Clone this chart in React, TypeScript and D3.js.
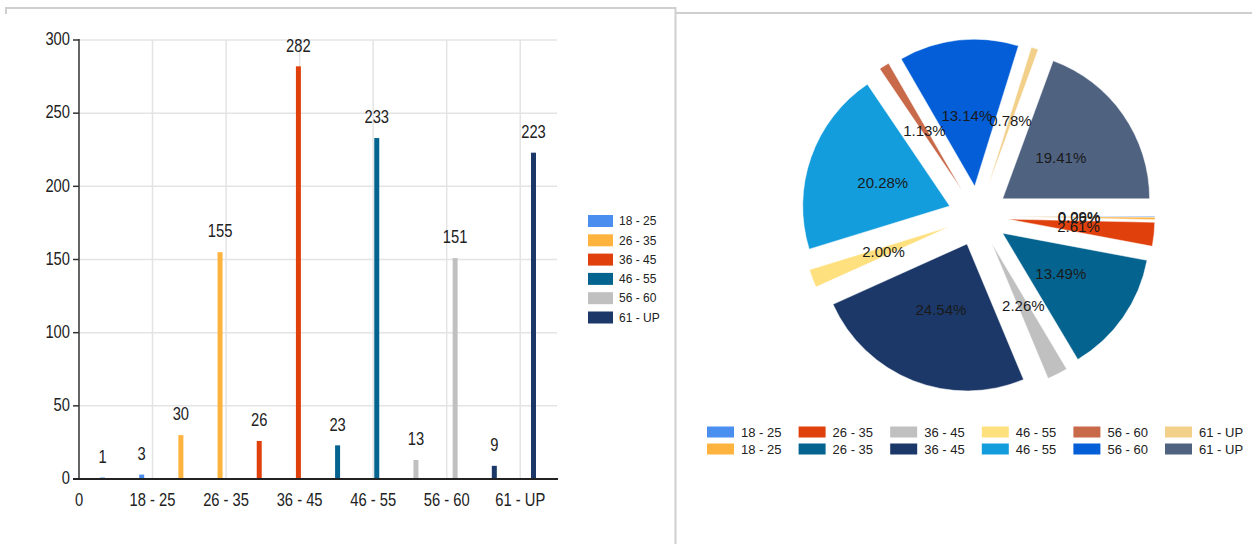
import React from "react";
import * as d3 from "d3";

// age groups and the two counts per group
const groups = ["18 - 25", "26 - 35", "36 - 45", "46 - 55", "56 - 60", "61 - UP"];
const seriesA = [1, 30, 26, 23, 13, 9];
const seriesB = [3, 155, 282, 233, 151, 223];
const yTicks = [0, 50, 100, 150, 200, 250, 300];
const xTickLabels = ["0", ...groups];

const barColors = ["#4a8ff0", "#ffb33f", "#e0400b", "#04648f", "#c0c0c0", "#1b3868"];
const pieColors = [
  "#4a8ff0", "#ffb33f", "#e0400b", "#04648f", "#c0c0c0", "#1b3868",
  "#ffe07f", "#149ddc", "#c8694a", "#035ed8", "#f2d08a", "#4f6280",
];

const sans = "Arial, 'Liberation Sans', sans-serif";
const ink = "#222";

// the bar chart uses a narrow face, faked by squeezing Liberation Sans
const Narrow: React.FC<{ x: number; y: number; anchor?: string; children: React.ReactNode }> = ({ x, y, anchor = "middle", children }) => (
  <text transform={`translate(${x},${y}) scale(0.82,1)`} textAnchor={anchor} dy="0.35em"
    fontFamily={sans} fontSize={18} fill={ink}>
    {children}
  </text>
);

const BarChart: React.FC = () => {
  const left = 79, right = 557, top = 40, bottom = 479;
  const x = d3.scaleLinear().domain([0, 6.5]).range([left, right]);
  const y = d3.scaleLinear().domain([0, 300]).range([bottom, top]);
  const band = d3.scaleBand<string>().domain(groups).range([left, right]).paddingOuter(0.05).paddingInner(0);
  const sub = d3.scaleBand<number>().domain([0, 1]).range([0, band.step()]);
  const bw = 5;

  const bars = groups.flatMap((g, i) =>
    [seriesA[i], seriesB[i]].map((v, j) => ({
      g, v, color: barColors[i],
      cx: (band(g) || 0) + (sub(j) || 0) + sub.bandwidth() / 2,
    }))
  );

  return (
    <g>
      {/* frame */}
      <path d="M6,14 V8 H675.5 V544" fill="none" stroke="#cfcfcf" strokeWidth={2} />
      {/* horizontal grid */}
      {yTicks.map((t) => (
        <line key={"h" + t} x1={left} x2={right} y1={y(t)} y2={y(t)} stroke="#e4e4e4" strokeWidth={1.5} />
      ))}
      {/* vertical grid */}
      {d3.range(1, 7).map((t) => (
        <line key={"v" + t} x1={x(t)} x2={x(t)} y1={top} y2={bottom} stroke="#e4e4e4" strokeWidth={1.5} />
      ))}
      {/* bars */}
      {bars.map((b, k) => (
        <g key={"b" + k}>
          <rect x={b.cx - bw / 2} y={y(b.v)} width={bw} height={bottom - y(b.v)} fill={b.color} />
          <Narrow x={b.cx} y={y(b.v) - 21}>{b.v}</Narrow>
        </g>
      ))}
      {/* y axis */}
      <line x1={left} x2={left} y1={top - 1} y2={bottom} stroke="#333" strokeWidth={1.5} />
      {yTicks.map((t) => (
        <g key={"yt" + t}>
          <line x1={left - 6} x2={left} y1={y(t)} y2={y(t)} stroke="#333" strokeWidth={1.5} />
          <Narrow x={left - 9} y={y(t) - 1} anchor="end">{t}</Narrow>
        </g>
      ))}
      {/* x axis */}
      <line x1={left - 6} x2={right + 1} y1={bottom} y2={bottom} stroke="#222" strokeWidth={2} />
      {xTickLabels.map((l, i) => (
        <Narrow key={"xt" + i} x={x(i)} y={500}>{l}</Narrow>
      ))}
      {/* legend */}
      {groups.map((g, i) => (
        <g key={"lg" + i} transform={`translate(588,${221 + i * 19.3})`}>
          <rect x={0} y={-6} width={25} height={12} fill={barColors[i]} />
          <text x={31} y={0} dy="0.35em" fontFamily={sans} fontSize={12} fill={ink}>
            {g}
          </text>
        </g>
      ))}
    </g>
  );
};

const PieChart: React.FC = () => {
  const values = groups.flatMap((_, i) => [seriesA[i], seriesB[i]]);
  const labels = groups.flatMap((g) => [g, g]);
  const total = d3.sum(values);
  const cx = 978, cy = 216, r = 147, offset = 30, labelR = 101;
  const arcs = d3
    .pie<number>()
    .sort(null)
    .startAngle(Math.PI / 2)
    .endAngle(Math.PI / 2 + 2 * Math.PI)(values);
  const arc = d3.arc<d3.PieArcDatum<number>>().innerRadius(0).outerRadius(r);

  return (
    <g>
      <line x1={676} x2={1252} y1={13} y2={13} stroke="#cfcfcf" strokeWidth={2} />
      <g transform={`translate(${cx},${cy})`}>
        {arcs.map((a, i) => {
          const mid = (a.startAngle + a.endAngle) / 2;
          const dx = Math.sin(mid), dy = -Math.cos(mid);
          return (
            <path key={"s" + i} d={arc(a) || ""} fill={pieColors[i]} stroke="#fff" strokeWidth={0.5}
              transform={`translate(${dx * offset},${dy * offset})`} />
          );
        })}
        {arcs.map((a, i) => {
          const mid = (a.startAngle + a.endAngle) / 2;
          const dx = Math.sin(mid), dy = -Math.cos(mid);
          return (
            <text key={"t" + i} x={dx * labelR} y={dy * labelR} dy="0.35em" textAnchor="middle"
              fontFamily={sans} fontSize={15} fill="#1a1a1a">
              {((a.value / total) * 100).toFixed(2)}%
            </text>
          );
        })}
      </g>
      {/* legend: two rows, filled column by column */}
      {labels.map((l, i) => (
        <g key={"pl" + i} transform={`translate(${707 + Math.floor(i / 2) * 91.6},${432 + (i % 2) * 17})`}>
          <rect x={0} y={-5.5} width={27} height={11} fill={pieColors[i]} />
          <text x={34} y={0} dy="0.35em" fontFamily={sans} fontSize={13} fill={ink}>
            {l}
          </text>
        </g>
      ))}
    </g>
  );
};

export default function App() {
  return (
    <div style={{ position: "fixed", left: 0, top: 0, width: 1252, height: 544, background: "#fff" }}>
      <svg width={1252} height={544} style={{ display: "block" }}>
        <BarChart />
        <PieChart />
      </svg>
    </div>
  );
}
